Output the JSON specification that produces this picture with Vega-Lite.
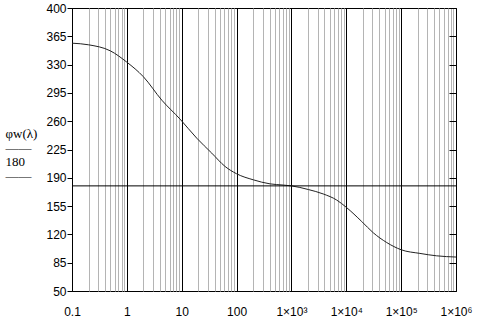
{
  "$schema": "https://vega.github.io/schema/vega-lite/v6.json",
  "width": 384,
  "height": 283,
  "autosize": {"type": "none"},
  "padding": {"left": 72, "top": 8, "right": 21, "bottom": 30},
  "background": "white",
  "config": {
    "view": {"stroke": "black", "strokeWidth": 1},
    "axis": {
      "labelFont": "Liberation Sans Narrow, Liberation Sans",
      "labelFontSize": 12,
      "labelColor": "black",
      "domainColor": "black",
      "tickColor": "black"
    }
  },
  "datasets": {
    "curve": [
      {"lam": 0.1, "phi": 356.5},
      {"lam": 0.2, "phi": 354.5},
      {"lam": 0.5, "phi": 347},
      {"lam": 1, "phi": 333},
      {"lam": 2, "phi": 315},
      {"lam": 4.34, "phi": 286},
      {"lam": 9.35, "phi": 262.5},
      {"lam": 18.8, "phi": 239},
      {"lam": 35.3, "phi": 220.5},
      {"lam": 61.8, "phi": 204},
      {"lam": 100, "phi": 195},
      {"lam": 202, "phi": 187.5},
      {"lam": 407, "phi": 182.5},
      {"lam": 712, "phi": 181},
      {"lam": 1000, "phi": 180},
      {"lam": 2032, "phi": 175.5},
      {"lam": 3811, "phi": 170},
      {"lam": 6683, "phi": 162.5},
      {"lam": 10000, "phi": 153.5},
      {"lam": 19090, "phi": 136},
      {"lam": 31040, "phi": 122},
      {"lam": 54450, "phi": 110},
      {"lam": 100000, "phi": 101},
      {"lam": 219800, "phi": 96.5},
      {"lam": 443400, "phi": 93.5},
      {"lam": 1000000, "phi": 92}
    ],
    "levels": [{"level": 180}]
  },
  "layer": [
    {
      "data": {"name": "curve"},
      "mark": {"type": "line", "color": "#222222", "strokeWidth": 1, "interpolate": "monotone"},
      "encoding": {
        "x": {
          "field": "lam",
          "type": "quantitative",
          "scale": {"type": "log", "domain": [0.1, 1000000], "nice": false},
          "axis": {
            "title": null,
            "values": [0.1,0.2,0.3,0.4,0.5,0.6,0.7,0.8,0.9,1,2,3,4,5,6,7,8,9,10,20,30,40,50,60,70,80,90,100,200,300,400,500,600,700,800,900,1000,2000,3000,4000,5000,6000,7000,8000,9000,10000,20000,30000,40000,50000,60000,70000,80000,90000,100000,200000,300000,400000,500000,600000,700000,800000,900000,1000000],
            "labelExpr": "indexof([0.1,1,10,100,1000,10000,100000,1000000], datum.value) >= 0 ? ['0.1','1','10','100','1×10³','1×10⁴','1×10⁵','1×10⁶'][indexof([0.1,1,10,100,1000,10000,100000,1000000], datum.value)] : ''",
            "labelOverlap": false,
            "labelFlush": false,
            "labelPadding": 15,
            "labelDx": 2,
            "ticks": false,
            "tickSize": 0,
            "domain": false,
            "grid": true,
            "gridOpacity": 1,
            "gridWidth": 1,
            "gridColor": {
              "condition": {"test": "indexof([0.1,1,10,100,1000,10000,100000,1000000], datum.value) >= 0", "value": "black"},
              "value": "#b4b4b4"
            }
          }
        },
        "y": {
          "field": "phi",
          "type": "quantitative",
          "scale": {"domain": [50, 400], "nice": false, "zero": false},
          "axis": {
            "values": [50,85,120,155,190,225,260,295,330,365,400],
            "grid": false,
            "tickSize": 5,
            "labelPadding": 1,
            "title": ["φw(λ)", "——", "180", "——"],
            "titleFont": "Liberation Serif",
            "titleFontSize": 13,
            "titleFontWeight": "normal",
            "titleColor": "black",
            "titleAngle": 0,
            "titleAlign": "left",
            "titleBaseline": "alphabetic",
            "titleLineHeight": 14,
            "titleX": -67,
            "titleY": 129
          }
        }
      }
    },
    {
      "data": {"name": "levels"},
      "mark": {"type": "rule", "color": "black", "strokeWidth": 1},
      "encoding": {
        "y": {
          "field": "level",
          "type": "quantitative",
          "axis": {
            "orient": "right",
            "values": [50,85,120,155,190,225,260,295,330,365,400],
            "labels": false,
            "domain": false,
            "grid": false,
            "tickSize": -7,
            "title": null
          }
        }
      }
    }
  ],
  "resolve": {"axis": {"y": "independent"}}
}
